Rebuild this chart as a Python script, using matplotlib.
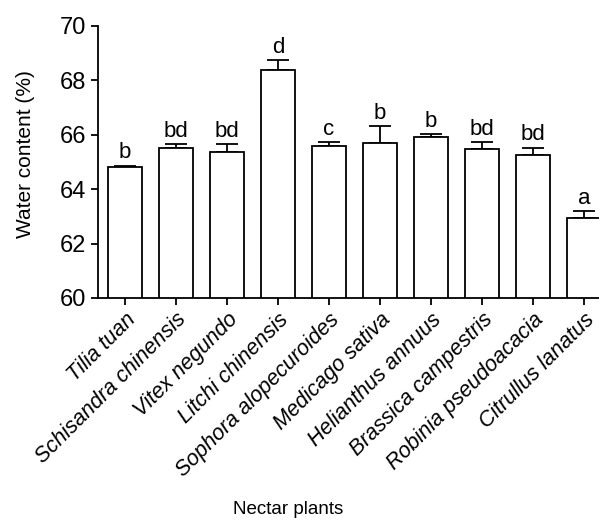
import matplotlib
matplotlib.use('Agg')
from matplotlib import pyplot as plt

plants = ['Tilia tuan', 'Schisandra chinensis', 'Vitex negundo',
          'Litchi chinensis', 'Sophora alopecuroides', 'Medicago sativa',
          'Helianthus annuus', 'Brassica campestris', 'Robinia pseudoacacia',
          'Citrullus lanatus']
water = [64.80, 65.53, 65.37, 68.38, 65.59, 65.71, 65.92, 65.46, 65.27, 62.95]
err = [0.07, 0.13, 0.28, 0.37, 0.15, 0.60, 0.12, 0.26, 0.26, 0.24]
letters = ['b', 'bd', 'bd', 'd', 'c', 'b', 'b', 'bd', 'bd', 'a']

plt.rcParams['font.family'] = 'Liberation Sans'

fig = plt.figure(figsize=(5.99, 5.21), dpi=100)
ax = fig.add_axes([98 / 599, 1 - 298 / 521, 501 / 599, 272 / 521])

x = range(len(plants))
ax.bar(x, water, width=0.67, color='white', edgecolor='black', linewidth=1.3,
       zorder=2)
ax.errorbar(x, water, yerr=[[0] * len(err), err], fmt='none', ecolor='black',
            elinewidth=1.3, capsize=8, capthick=1.3, zorder=1)

for i, (v, e, l) in enumerate(zip(water, err, letters)):
    ax.text(i, v + e + 0.08, l, ha='center', va='bottom', fontsize=16)

ax.set_ylim(60, 70)
ax.set_xlim(-0.53, 9.29)
ax.set_yticks([60, 62, 64, 66, 68, 70])
ax.set_xticks(list(x))
ax.set_xticklabels(plants, rotation=45, ha='right', va='top',
                   rotation_mode='anchor', fontstyle='italic', fontsize=15.5)
ax.tick_params(axis='y', labelsize=17, width=1.3, length=5)
ax.tick_params(axis='x', width=1.3, length=5, pad=3)

for s in ['top', 'right']:
    ax.spines[s].set_visible(False)
for s in ['left', 'bottom']:
    ax.spines[s].set_linewidth(1.3)

ax.set_ylabel('Water content (%)', fontsize=15)
ax.yaxis.set_label_coords(-0.126, 0.53)
ax.set_xlabel('Nectar plants', fontsize=13.5)
ax.xaxis.set_label_coords(0.379, -0.745)

fig.savefig('out.png', dpi=100)
